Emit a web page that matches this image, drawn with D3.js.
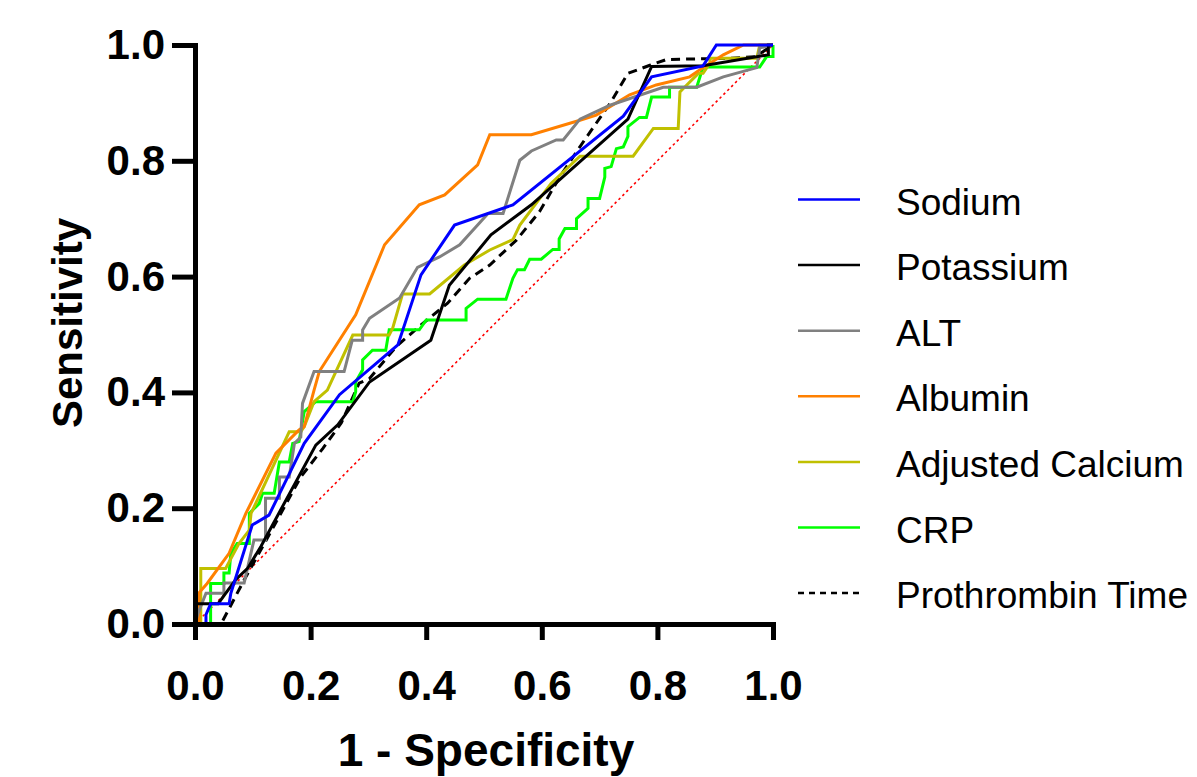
<!DOCTYPE html>
<html>
<head>
<meta charset="utf-8">
<script src="https://cdn.jsdelivr.net/npm/d3@7"></script>
<style>
  body { margin: 0; background: #fff; }
  svg { display: block; font-family: "Liberation Sans", Arial, sans-serif; }
</style>
</head>
<body>
<div id="GraphHolder"></div>
<script>
// ROC points: [1 - specificity, sensitivity]
var sodium = [[0,0],[0.019,0],[0.019,0.016],[0.027,0.035],[0.059,0.035],[0.062,0.053],[0.099,0.171],[0.128,0.188],
  [0.189,0.312],[0.25,0.396],[0.351,0.482],[0.391,0.603],[0.449,0.689],[0.55,0.724],[0.741,0.877],[0.79,0.945],
  [0.879,0.964],[0.902,1],[1,1]];
var potassium = [[0,0],[0,0.035],[0.04,0.035],[0.053,0.053],[0.07,0.076],[0.091,0.096],[0.114,0.134],[0.209,0.309],
  [0.247,0.344],[0.302,0.418],[0.408,0.49],[0.44,0.585],[0.512,0.672],[0.582,0.724],[0.749,0.872],[0.79,0.963],
  [0.879,0.964],[0.992,0.983],[0.992,1],[1,1]];
var alt = [[0,0],[0.005,0.018],[0.019,0.053],[0.05,0.053],[0.05,0.071],[0.085,0.071],[0.102,0.145],[0.122,0.145],
  [0.122,0.217],[0.146,0.217],[0.146,0.254],[0.163,0.254],[0.172,0.312],[0.183,0.323],[0.186,0.381],[0.206,0.436],
  [0.258,0.436],[0.272,0.49],[0.29,0.49],[0.29,0.508],[0.302,0.528],[0.354,0.563],[0.385,0.616],[0.423,0.634],
  [0.458,0.655],[0.507,0.709],[0.533,0.709],[0.562,0.801],[0.582,0.817],[0.625,0.836],[0.637,0.836],[0.666,0.872],
  [0.718,0.896],[0.81,0.927],[0.868,0.927],[0.914,0.945],[0.972,0.961],[0.977,0.995],[1,1]];
var albumin = [[0,0],[0.007,0],[0.007,0.054],[0.021,0.07],[0.059,0.122],[0.088,0.191],[0.14,0.295],[0.18,0.335],
  [0.189,0.341],[0.206,0.404],[0.215,0.436],[0.278,0.534],[0.328,0.655],[0.388,0.724],[0.432,0.741],[0.489,0.793],
  [0.51,0.845],[0.582,0.845],[0.666,0.87],[0.694,0.879],[0.752,0.914],[0.798,0.931],[0.856,0.945],[0.873,0.957],
  [0.914,0.983],[0.949,1],[1,1]];
var adjCalcium = [[0,0],[0.01,0],[0.01,0.096],[0.053,0.096],[0.076,0.139],[0.094,0.162],[0.097,0.191],[0.163,0.332],
  [0.183,0.332],[0.189,0.341],[0.206,0.384],[0.229,0.404],[0.273,0.499],[0.336,0.499],[0.342,0.511],[0.359,0.57],
  [0.406,0.57],[0.466,0.62],[0.51,0.646],[0.55,0.664],[0.562,0.689],[0.616,0.761],[0.666,0.808],[0.758,0.808],
  [0.793,0.856],[0.836,0.856],[0.839,0.919],[0.847,0.927],[0.871,0.951],[0.879,0.951],[0.891,0.969],[0.891,0.977],
  [0.972,0.977],[0.977,1],[1,1]];
var crp = [[0,0],[0.027,0],[0.027,0.07],[0.05,0.07],[0.05,0.088],[0.059,0.088],[0.062,0.122],[0.073,0.139],
  [0.094,0.139],[0.094,0.191],[0.111,0.208],[0.117,0.226],[0.137,0.226],[0.146,0.28],[0.163,0.28],[0.169,0.312],
  [0.18,0.315],[0.189,0.367],[0.209,0.384],[0.273,0.384],[0.278,0.401],[0.278,0.418],[0.29,0.439],[0.29,0.456],
  [0.307,0.473],[0.33,0.473],[0.336,0.508],[0.388,0.508],[0.4,0.525],[0.469,0.525],[0.469,0.545],[0.489,0.561],
  [0.538,0.561],[0.55,0.597],[0.558,0.612],[0.57,0.612],[0.579,0.63],[0.599,0.63],[0.619,0.647],[0.63,0.647],
  [0.63,0.665],[0.64,0.683],[0.66,0.683],[0.66,0.7],[0.68,0.718],[0.68,0.735],[0.7,0.735],[0.709,0.772],
  [0.709,0.787],[0.72,0.79],[0.729,0.821],[0.741,0.824],[0.749,0.842],[0.749,0.859],[0.769,0.875],[0.781,0.875],
  [0.79,0.91],[0.821,0.91],[0.821,0.927],[0.868,0.927],[0.879,0.962],[0.977,0.962],[0.989,0.98],[1,0.98],[1,1]];
var prothrombin = [[0,0],[0.045,0],[0.085,0.076],[0.125,0.148],[0.183,0.254],[0.221,0.303],[0.253,0.347],
  [0.284,0.416],[0.302,0.424],[0.348,0.479],[0.388,0.514],[0.437,0.554],[0.475,0.597],[0.51,0.62],[0.556,0.663],
  [0.596,0.712],[0.631,0.772],[0.674,0.836],[0.718,0.899],[0.749,0.951],[0.787,0.965],[0.816,0.975],
  [0.925,0.977],[0.97,0.98],[1,1]];
var reference = [[0,0],[1,1]];

var seriesNames = ["Sodium", "Potassium", "ALT", "Albumin", "Adjusted Calcium", "CRP", "Prothrombin Time"];
var seriesData = [sodium, potassium, alt, albumin, adjCalcium, crp, prothrombin];
var seriesColors = ["#0000ff", "#000000", "#808080", "#ff8000", "#c0c000", "#00ff00", "#000000"];
var seriesDash = [null, null, null, null, null, null, "9,6"];
var tickValues = [0, 0.2, 0.4, 0.6, 0.8, 1.0];

var W = 1197, H = 777;

var svg = d3.select("#GraphHolder").append("svg")
    .attr("width", W)
    .attr("height", H);

// scales
var x = d3.scaleLinear().domain([0, 1]).range([195, 773]);
var y = d3.scaleLinear().domain([0, 1]).range([624, 45]);

// chance line
var line = d3.line().x(function(d) { return x(d[0]); }).y(function(d) { return y(d[1]); });
svg.append("path")
    .datum(reference)
    .attr("d", line)
    .attr("fill", "none")
    .attr("stroke", "#ff0000")
    .attr("stroke-width", 1.6)
    .attr("stroke-dasharray", "2.5,3");

// curves, drawn last-to-first so Sodium sits on top
for (var i = seriesData.length - 1; i >= 0; i--) {
    svg.append("path")
        .datum(seriesData[i])
        .attr("class", "roc")
        .attr("d", line)
        .attr("fill", "none")
        .attr("stroke", seriesColors[i])
        .attr("stroke-width", 3)
        .attr("stroke-dasharray", seriesDash[i]);
}

// axes
var xAxis = d3.axisBottom(x).tickValues(tickValues).tickFormat(d3.format(".1f"))
    .tickSize(16).tickSizeOuter(0).tickPadding(30);
var yAxis = d3.axisLeft(y).tickValues(tickValues).tickFormat(d3.format(".1f"))
    .tickSize(23).tickSizeOuter(0).tickPadding(7);

var gx = svg.append("g")
    .attr("class", "xaxis")
    .attr("transform", "translate(0," + y(0) + ")")
    .call(xAxis);
var gy = svg.append("g")
    .attr("class", "yaxis")
    .attr("transform", "translate(" + x(0) + ",0)")
    .call(yAxis);

svg.selectAll(".xaxis, .yaxis").selectAll("path, line")
    .attr("stroke", "#000")
    .attr("stroke-width", 5)
    .attr("stroke-linecap", "square");
svg.selectAll(".xaxis, .yaxis").selectAll("text")
    .attr("fill", "#000")
    .style("font-family", "'Liberation Sans', Arial, sans-serif")
    .style("font-size", "42px")
    .style("font-weight", "bold");
gx.selectAll("line").attr("stroke-linecap", "butt");
gy.selectAll("line").attr("stroke-linecap", "butt");

// axis titles
svg.append("text")
    .attr("x", 486)
    .attr("y", 766)
    .attr("text-anchor", "middle")
    .style("font-size", "46px")
    .style("font-weight", "bold")
    .text("1 - Specificity");
svg.append("text")
    .attr("transform", "translate(82,323) rotate(-90)")
    .attr("text-anchor", "middle")
    .style("font-size", "42px")
    .style("font-weight", "bold")
    .text("Sensitivity");

// legend
var legend = svg.selectAll(".legend")
    .data(seriesNames)
    .enter().append("g")
    .attr("class", "legend")
    .attr("transform", function(d, i) { return "translate(798," + (199.5 + i * 65.6) + ")"; });
legend.append("line")
    .attr("x1", 0).attr("x2", 62)
    .attr("y1", 0).attr("y2", 0)
    .attr("stroke", function(d, i) { return seriesColors[i]; })
    .attr("stroke-width", 2.5)
    .attr("stroke-dasharray", function(d, i) { return seriesDash[i] ? "6,5" : null; });
legend.append("text")
    .attr("x", 98)
    .attr("y", 15)
    .style("font-size", "37px")
    .text(function(d) { return d; });
</script>
</body>
</html>
